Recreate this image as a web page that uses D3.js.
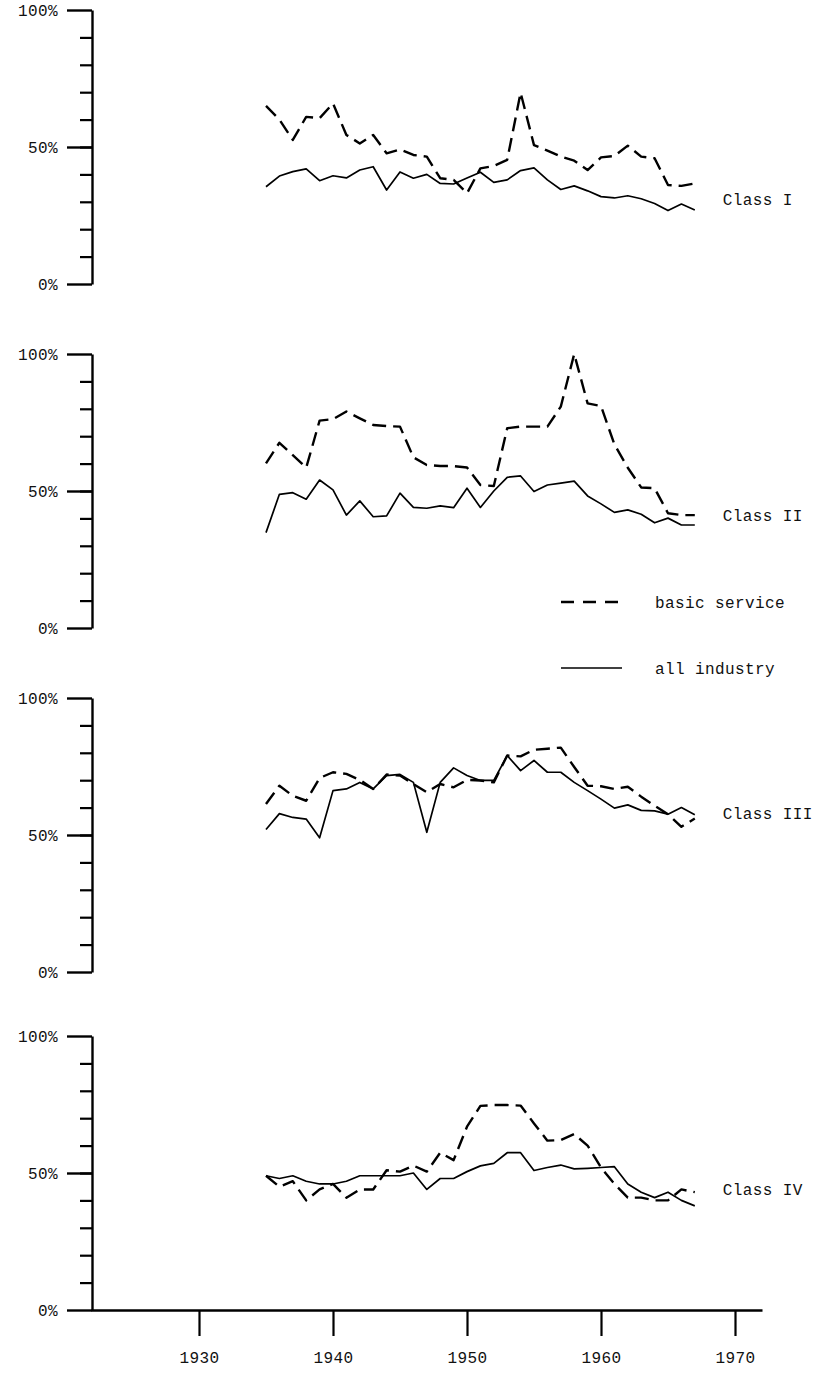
<!DOCTYPE html>
<html>
<head>
<meta charset="utf-8">
<script src="https://cdn.jsdelivr.net/npm/d3@7"></script>
<style>
  body { margin: 0; background: #fff; }
  text { font-family: "Liberation Mono", "DejaVu Sans Mono", monospace; fill: #111; }
</style>
</head>
<body>
<div id="chart"></div>
<script>
let years = [1935, 1936, 1937, 1938, 1939, 1940, 1941, 1942, 1943, 1944, 1945,
    1946, 1947, 1948, 1949, 1950, 1951, 1952, 1953, 1954, 1955, 1956,
    1957, 1958, 1959, 1960, 1961, 1962, 1963, 1964, 1965, 1966, 1967]

let decadeTicks = [1930, 1940, 1950, 1960, 1970]
let classNames = ["Class I", "Class II", "Class III", "Class IV"]

// basic service (dashed) and all industry (solid), percent
let class1Basic = [65, 60, 52.6, 61, 60.5, 65.9, 54.4, 51.3, 54.4, 47.7, 49.1, 47.1, 46.5, 38.6, 38, 33.1,
    42.2, 43.1, 45.3, 69.8, 50.7, 48.7, 46.5, 45, 41.6, 46.2, 46.7, 50.5, 46.5, 45.9, 36.1, 35.8, 36.7]
let class1All = [35.5, 39.4, 41, 42, 37.7, 39.5, 38.7, 41.6, 42.8, 34.3, 40.9, 38.6, 40, 36.7, 36.5, 38.7,
    40.8, 37.1, 38, 41.4, 42.4, 38, 34.5, 35.8, 34, 31.9, 31.4, 32.2, 31.1, 29.4, 26.8, 29.2, 27]

let class2Basic = [60.1, 67.6, 63.1, 58.5, 75.7, 76.2, 79, 76.5, 74.1, 73.7, 73.5, 62.3, 59.5, 59.1, 59.1, 58.6,
    52.2, 51.8, 72.9, 73.5, 73.5, 73.5, 80.8, 100, 82, 81, 67, 58.5, 51.3, 51, 41.9, 41.2, 41.2]
let class2All = [34.8, 48.8, 49.4, 47, 54, 50.4, 41.2, 46.4, 40.6, 40.9, 49.2, 44, 43.7, 44.6, 43.9, 51,
    44, 50, 55, 55.5, 49.8, 52.2, 52.9, 53.6, 48.2, 45.3, 42.2, 43.1, 41.5, 38.4, 40.1, 37.6, 37.6]

let class3Basic = [61.3, 68, 64.3, 62.5, 70.8, 72.9, 72.3, 70.1, 66.8, 72.1, 71.7, 68.6, 65.6, 68.6, 67.4, 70.1,
    69.9, 69.2, 79, 78.7, 81.1, 81.5, 81.9, 74.8, 68, 67.8, 66.8, 67.6, 64, 60.7, 57.6, 53, 56]
let class3All = [52, 57.8, 56.4, 55.8, 49, 66.2, 66.8, 69.2, 66.8, 71.7, 72.1, 69.2, 51, 69.2, 74.5, 71.7,
    69.9, 69.9, 79, 73.5, 77.2, 72.9, 72.9, 69.2, 66.2, 63.1, 59.8, 61, 59, 58.8, 57.6, 60, 57.4]

let class4Basic = [49, 45, 47, 40, 44, 46, 41, 44, 44, 51, 50.5, 52.7, 50.5, 57.4, 54.7, 66.9,
    74.5, 74.8, 74.8, 74.6, 68.1, 61.8, 62, 64.2, 60, 52, 46, 41, 41, 40, 40, 44, 43]
let class4All = [49, 48, 49, 47, 46, 46, 47, 49, 49, 49, 49, 50, 44, 48, 48, 50.5,
    52.6, 53.5, 57.4, 57.4, 50.9, 52, 52.9, 51.5, 51.7, 52, 52.3, 46, 43, 41, 43, 40, 38]

let basicSeries = [class1Basic, class2Basic, class3Basic, class4Basic]
let allSeries = [class1All, class2All, class3All, class4All]
// where the class name sits, in percent of its panel
let labelLevels = [31, 41, 58, 44]

let legendNames = ["basic service", "all industry"]

let width = 818, height = 1373
let panelTops = [10, 354, 698, 1036]
let panelHeight = 274
let fontSize = 16

let svg = d3.select("#chart")
    .append("svg")
    .attr("width", width)
    .attr("height", height)

let xScale = d3.scaleLinear()
    .domain([1930, 1970])
    .range([199, 735])

let xAxisScale = d3.scaleLinear()
    .domain([xScale.invert(91), xScale.invert(762)])
    .range([91, 762])

let line = function (yScale) {
    return d3.line()
        .x((d, i) => xScale(years[i]))
        .y(d => yScale(d))
}

let styleLabels = function (a) {
    a.selectAll(".tick text")
        .attr("font-size", fontSize)
        .attr("fill", "#111")
        .style("font-family", "Liberation Mono, monospace")
        .style("letter-spacing", "0.4px")
}

classNames.forEach(function (name, k) {
    let top = panelTops[k]
    let yScale = d3.scaleLinear()
        .domain([0, 100])
        .range([top + panelHeight, top])

    let g = svg.append("g")

    // minor ticks
    g.append("g")
        .attr("transform", "translate(92,0)")
        .call(d3.axisLeft(yScale).tickValues(d3.range(10, 100, 10)).tickSize(12).tickSizeOuter(0).tickFormat(""))
        .call(a => a.select(".domain").attr("stroke-width", 2.4))
        .call(a => a.selectAll(".tick line").attr("stroke-width", 2.2))

    // major ticks with labels
    g.append("g")
        .attr("transform", "translate(92,0)")
        .call(d3.axisLeft(yScale).tickValues([0, 50, 100]).tickSize(25).tickPadding(9).tickFormat(d => d + "%"))
        .call(a => a.select(".domain").remove())
        .call(a => a.selectAll(".tick line").attr("stroke-width", 2.4))
        .call(styleLabels)

    g.append("path")
        .datum(basicSeries[k])
        .attr("fill", "none")
        .attr("stroke", "#000")
        .attr("stroke-width", 2.4)
        .attr("stroke-dasharray", "14,7")
        .attr("stroke-linejoin", "round")
        .attr("d", line(yScale))

    g.append("path")
        .datum(allSeries[k])
        .attr("fill", "none")
        .attr("stroke", "#000")
        .attr("stroke-width", 1.7)
        .attr("stroke-linejoin", "round")
        .attr("d", line(yScale))

    g.append("text")
        .attr("x", xScale(1967) + 28)
        .attr("y", yScale(labelLevels[k]))
        .attr("dy", "0.35em")
        .attr("font-size", fontSize)
        .style("letter-spacing", "0.4px")
        .text(name)

    if (k == classNames.length - 1) {
        svg.append("g")
            .attr("transform", "translate(0," + (top + panelHeight) + ")")
            .call(d3.axisBottom(xAxisScale).tickValues(decadeTicks).tickSize(26).tickSizeOuter(0).tickPadding(16).tickFormat(d3.format("d")))
            .call(a => a.select(".domain").attr("stroke-width", 2.4))
            .call(a => a.selectAll(".tick line").attr("stroke-width", 2.2))
            .call(styleLabels)
    }
})

// legend
let legend = svg.append("g")
legendNames.forEach(function (name, i) {
    let ly = 602 + i * 66
    legend.append("line")
        .attr("x1", 561).attr("x2", 622)
        .attr("y1", ly).attr("y2", ly)
        .attr("stroke", "#000")
        .attr("stroke-width", i == 0 ? 2.4 : 1.7)
        .attr("stroke-dasharray", i == 0 ? "13,9" : null)
    legend.append("text")
        .attr("x", 655)
        .attr("y", ly)
        .attr("dy", "0.35em")
        .attr("font-size", fontSize)
        .style("letter-spacing", "0.4px")
        .text(name)
})
</script>
</body>
</html>
